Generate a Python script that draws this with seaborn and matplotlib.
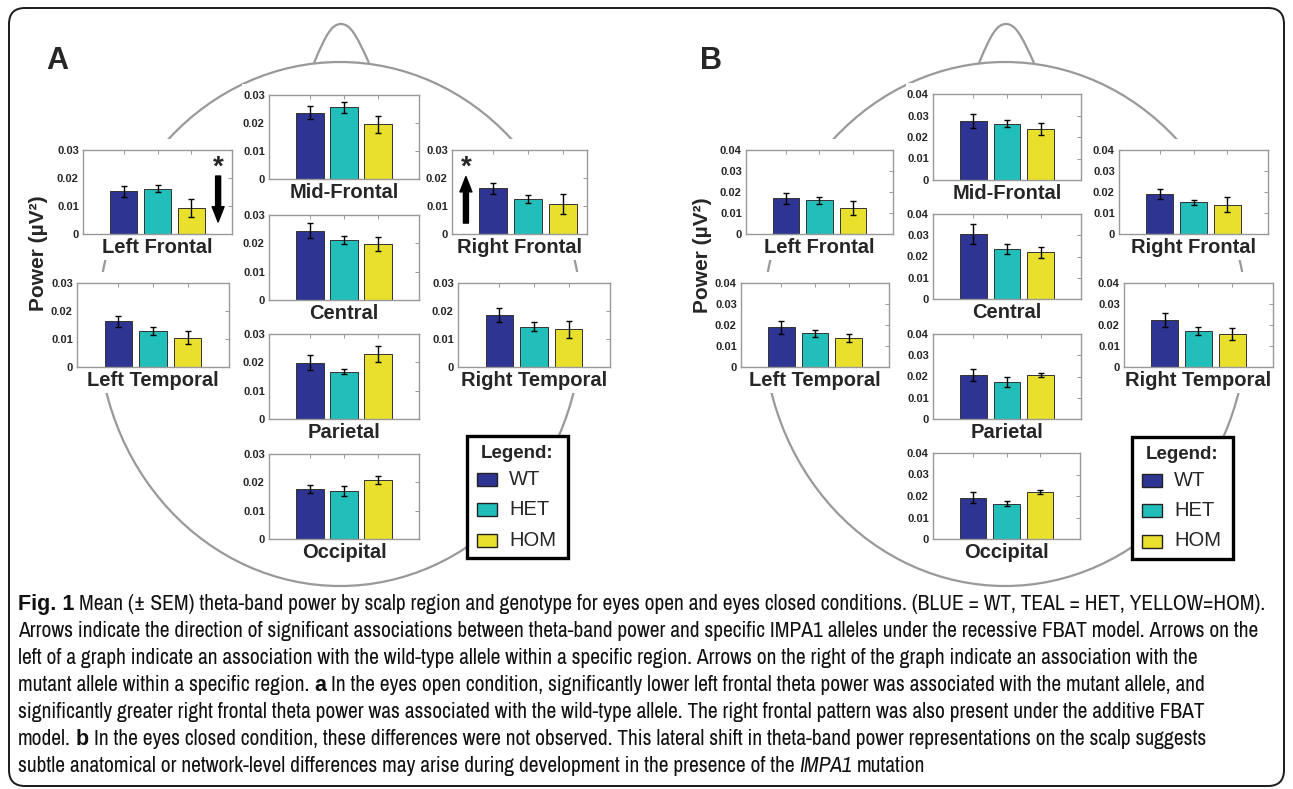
import numpy as np
import pandas as pd
import matplotlib
matplotlib.use("Agg")
import matplotlib.pyplot as plt
import seaborn as sns
from matplotlib.patches import Ellipse, Rectangle, FancyBboxPatch, PathPatch
from matplotlib.path import Path
from matplotlib import font_manager

# ---------------- data ----------------
genotypes = ["WT", "HET", "HOM"]
colors = ["#2E3492", "#22BEBA", "#E9E02E"]

# Panel A : eyes open (mean, SEM)
a_left_frontal = [0.0152, 0.0162, 0.0092]
a_left_frontal_sem = [0.0019, 0.0012, 0.0033]
a_mid_frontal = [0.0237, 0.0256, 0.0196]
a_mid_frontal_sem = [0.0022, 0.0020, 0.0030]
a_right_frontal = [0.0163, 0.0124, 0.0106]
a_right_frontal_sem = [0.0020, 0.0014, 0.0036]
a_left_temporal = [0.0163, 0.0129, 0.0105]
a_left_temporal_sem = [0.0020, 0.0014, 0.0024]
a_central = [0.0245, 0.0212, 0.0198]
a_central_sem = [0.0027, 0.0015, 0.0026]
a_right_temporal = [0.0185, 0.0144, 0.0134]
a_right_temporal_sem = [0.0024, 0.0015, 0.0030]
a_parietal = [0.0199, 0.0167, 0.0228]
a_parietal_sem = [0.0026, 0.0009, 0.0028]
a_occipital = [0.0176, 0.0170, 0.0208]
a_occipital_sem = [0.0013, 0.0017, 0.0015]

# Panel B : eyes closed (mean, SEM)
b_left_frontal = [0.0171, 0.0160, 0.0123]
b_left_frontal_sem = [0.0026, 0.0016, 0.0033]
b_mid_frontal = [0.0274, 0.0262, 0.0236]
b_mid_frontal_sem = [0.0032, 0.0016, 0.0029]
b_right_frontal = [0.0189, 0.0151, 0.0140]
b_right_frontal_sem = [0.0024, 0.0013, 0.0036]
b_left_temporal = [0.0189, 0.0161, 0.0137]
b_left_temporal_sem = [0.0030, 0.0017, 0.0020]
b_central = [0.0308, 0.0234, 0.0220]
b_central_sem = [0.0047, 0.0023, 0.0026]
b_right_temporal = [0.0224, 0.0171, 0.0156]
b_right_temporal_sem = [0.0032, 0.0018, 0.0028]
b_parietal = [0.0207, 0.0174, 0.0207]
b_parietal_sem = [0.0026, 0.0022, 0.0009]
b_occipital = [0.0193, 0.0164, 0.0219]
b_occipital_sem = [0.0025, 0.0012, 0.0010]

a_yticks = [0, 0.01, 0.02, 0.03]
a_yticklabels = ["0", "0.01", "0.02", "0.03"]
b_yticks = [0, 0.01, 0.02, 0.03, 0.04]
b_yticklabels = ["0", "0.01", "0.02", "0.03", "0.04"]

caption_lines = [
    [("Fig. 1", "bold", "normal"), ("Mean (\u00b1 SEM) theta-band power by scalp region and genotype for eyes open and eyes closed conditions. (BLUE = WT, TEAL = HET, YELLOW=HOM).", "normal", "normal")],
    [("Arrows indicate the direction of significant associations between theta-band power and specific IMPA1 alleles under the recessive FBAT model. Arrows on the", "normal", "normal")],
    [("left of a graph indicate an association with the wild-type allele within a specific region. Arrows on the right of the graph indicate an association with the", "normal", "normal")],
    [("mutant allele within a specific region.", "normal", "normal"), ("a", "bold", "normal"), ("In the eyes open condition, significantly lower left frontal theta power was associated with the mutant allele, and", "normal", "normal")],
    [("significantly greater right frontal theta power was associated with the wild-type allele. The right frontal pattern was also present under the additive FBAT", "normal", "normal")],
    [("model.", "normal", "normal"), ("b", "bold", "normal"), ("In the eyes closed condition, these differences were not observed. This lateral shift in theta-band power representations on the scalp suggests", "normal", "normal")],
    [("subtle anatomical or network-level differences may arise during development in the presence of the", "normal", "normal"), ("IMPA1", "normal", "italic"), ("mutation", "normal", "normal")],
]

# ---------------- style ----------------
sns.set_style("white")
plt.rcParams["font.family"] = ["Liberation Sans", "DejaVu Sans"]

W, H = 1293, 789
fig = plt.figure(figsize=(W / 100, H / 100), dpi=100)
fig.patch.set_facecolor("white")

bg = fig.add_axes([0, 0, 1, 1], zorder=0)
bg.set_xlim(0, W)
bg.set_ylim(H, 0)
bg.axis("off")

# outer frame
bg.add_patch(FancyBboxPatch((9, 8), 1275, 778, boxstyle="round,pad=0,rounding_size=16",
                            fc="none", ec="#1a1a1a", lw=1.4, zorder=1))

HEAD_C = "#999999"


def draw_head(cx):
    bg.add_patch(Ellipse((cx, 324), 2 * 242, 2 * 262, fill=False, ec=HEAD_C, lw=1.6, zorder=1))
    verts = [(cx - 26, 63), (cx - 14, 34), (cx - 8, 24), (cx + 1, 24),
             (cx + 10, 24), (cx + 16, 34), (cx + 29, 63)]
    codes = [Path.MOVETO, Path.CURVE4, Path.CURVE4, Path.CURVE4, Path.CURVE4, Path.CURVE4, Path.CURVE4]
    bg.add_patch(PathPatch(Path(verts, codes), fill=False, ec=HEAD_C, lw=1.6, zorder=1))


def px_axes(x0, y0, x1, y1):
    return fig.add_axes([x0 / W, 1 - y1 / H, (x1 - x0) / W, (y1 - y0) / H], zorder=5)


def panel_plot(box, name, means, sems, yticks, ylabels, xlim=(-1.2, 3.2)):
    x0, y0, x1, y1 = box
    # white backing (axes + tick labels), and behind the region name
    bg.add_patch(Rectangle((x0 - 27, y0 - 11), (x1 - x0) + 31, (y1 - y0) + 17,
                           fc="white", ec="none", zorder=2))
    bg.add_patch(Rectangle((x0 - 6, y1), (x1 - x0) + 12, 26,
                           fc="white", ec="none", zorder=2))
    ax = px_axes(*box)
    df = pd.DataFrame({"genotype": genotypes, "power": means})
    sns.barplot(data=df, x="genotype", y="power", hue="genotype", order=genotypes,
                hue_order=genotypes, palette=colors, dodge=False, legend=False,
                errorbar=None, width=0.8, saturation=1, edgecolor="#333333",
                linewidth=0.7, ax=ax)
    ax.errorbar(range(len(genotypes)), means, yerr=sems, fmt="none", ecolor="black",
                elinewidth=1.0, capsize=2.5, capthick=1.0, zorder=4)
    ax.set_xlim(*xlim)
    ax.set_ylim(yticks[0], yticks[-1])
    ax.set_yticks(yticks)
    ax.set_yticklabels(ylabels, fontsize=8, fontweight="bold")
    ax.set_xlabel("")
    ax.set_ylabel("")
    ax.tick_params(axis="both", direction="in", length=3, width=0.7, color="#999999",
                   top=True, right=True, labelbottom=False, pad=3)
    for s in ax.spines.values():
        s.set_color("#999999")
        s.set_linewidth(1.0)
    ax.set_facecolor("white")
    ax.annotate(name, xy=(0.5, 0), xycoords="axes fraction", xytext=(0, -19),
                textcoords="offset pixels", ha="center", va="baseline",
                fontsize=14.5, fontweight="bold", annotation_clip=False)
    return ax


def draw_legend(x0, y0):
    bg.add_patch(Rectangle((x0, y0), 101, 122, fc="white", ec="black", lw=2.4, zorder=3))
    bg.text(x0 + 50, y0 + 17, "Legend:", ha="center", va="center", fontsize=13.5,
            fontweight="bold", zorder=4)
    for i, (g, c) in enumerate(zip(genotypes, colors)):
        yy = y0 + 43 + i * 30.5
        bg.add_patch(Rectangle((x0 + 10, yy - 6.5), 20, 13, fc=c, ec="#222222", lw=1.0, zorder=4))
        bg.text(x0 + 42, yy, g, ha="left", va="center", fontsize=14.5, zorder=4)


# ---------------- panel A ----------------
draw_head(340)
ax = panel_plot((83, 150, 232, 234), "Left Frontal", a_left_frontal, a_left_frontal_sem, a_yticks, a_yticklabels)
ax.annotate("", xy=(2.79, 0.0043), xytext=(2.79, 0.0207),
            arrowprops=dict(width=3.6, headwidth=8.6, headlength=11, color="black", shrink=0))
ax.text(2.79, 0.0238, "*", ha="center", va="center", fontsize=20, fontweight="bold")
panel_plot((269, 95, 419, 179), "Mid-Frontal", a_mid_frontal, a_mid_frontal_sem, a_yticks, a_yticklabels)
ax = panel_plot((452, 150, 587, 234), "Right Frontal", a_right_frontal, a_right_frontal_sem,
                a_yticks, a_yticklabels, xlim=(-1.19, 2.69))
ax.annotate("", xy=(-0.79, 0.0205), xytext=(-0.79, 0.0039),
            arrowprops=dict(width=3.6, headwidth=8.6, headlength=11, color="black", shrink=0))
ax.text(-0.79, 0.0238, "*", ha="center", va="center", fontsize=20, fontweight="bold")
panel_plot((77, 283, 229, 367), "Left Temporal", a_left_temporal, a_left_temporal_sem, a_yticks, a_yticklabels)
panel_plot((269, 215, 419, 300), "Central", a_central, a_central_sem, a_yticks, a_yticklabels)
panel_plot((458, 283, 610, 367), "Right Temporal", a_right_temporal, a_right_temporal_sem, a_yticks, a_yticklabels)
panel_plot((269, 334, 419, 419), "Parietal", a_parietal, a_parietal_sem, a_yticks, a_yticklabels)
panel_plot((269, 454, 419, 539), "Occipital", a_occipital, a_occipital_sem, a_yticks, a_yticklabels)
draw_legend(467, 436)
bg.text(57, 61, "A", ha="center", va="center", fontsize=22, fontweight="bold", zorder=4)
bg.text(39, 253, "Power (\u00b5V\u00b2)", ha="center", va="center", rotation=90,
        fontsize=15, fontweight="bold", zorder=4)

# ---------------- panel B ----------------
draw_head(1005)
panel_plot((746, 150, 893, 234), "Left Frontal", b_left_frontal, b_left_frontal_sem, b_yticks, b_yticklabels)
panel_plot((741, 283, 889, 367), "Left Temporal", b_left_temporal, b_left_temporal_sem, b_yticks, b_yticklabels)
panel_plot((933, 94, 1081, 180), "Mid-Frontal", b_mid_frontal, b_mid_frontal_sem, b_yticks, b_yticklabels)
panel_plot((933, 214, 1081, 299), "Central", b_central, b_central_sem, b_yticks, b_yticklabels)
panel_plot((933, 334, 1081, 419), "Parietal", b_parietal, b_parietal_sem, b_yticks, b_yticklabels)
panel_plot((933, 453, 1080, 539), "Occipital", b_occipital, b_occipital_sem, b_yticks, b_yticklabels)
panel_plot((1119, 150, 1268, 234), "Right Frontal", b_right_frontal, b_right_frontal_sem, b_yticks, b_yticklabels)
panel_plot((1124, 283, 1273, 367), "Right Temporal", b_right_temporal, b_right_temporal_sem, b_yticks, b_yticklabels)
draw_legend(1132, 437)
bg.text(711, 61, "B", ha="center", va="center", fontsize=22, fontweight="bold", zorder=4)
bg.text(702, 255, "Power (\u00b5V\u00b2)", ha="center", va="center", rotation=90,
        fontsize=15, fontweight="bold", zorder=4)

# ---------------- caption ----------------
# prefer a condensed sans face if one is installed
cap_family, cap_stretch = "Liberation Sans", "normal"
ttf = font_manager.fontManager.ttflist
names = {f.name for f in ttf}
narrow = sorted(n for n in names if ("Narrow" in n or "Condensed" in n) and "Mono" not in n and "Serif" not in n)
if "Liberation Sans Narrow" in names:
    cap_family = "Liberation Sans Narrow"
elif narrow:
    cap_family = narrow[0]
else:
    cond = [f for f in ttf
            if f.stretch in ("condensed", "semi-condensed", 500, 600) and f.name in ("DejaVu Sans", "Open Sans", "Roboto", "Noto Sans")]
    if cond:
        cap_family, cap_stretch = cond[0].name, "condensed"


def _wnum(w):
    table = {"normal": 400, "regular": 400, "book": 400, "medium": 500, "semibold": 600,
             "demibold": 600, "bold": 700, "heavy": 800, "extra bold": 800, "black": 900}
    return w if isinstance(w, (int, float)) else table.get(str(w).lower(), 400)


has_bold = any(f.name == cap_family and _wnum(f.weight) >= 600 for f in ttf)
bold_family = cap_family if has_bold else "Liberation Sans"
renderer = fig.canvas.get_renderer()


def make_text(s, size, weight="normal", style="normal", x=0, y=0):
    fam = bold_family if weight == "bold" else cap_family
    return fig.text(x, y, s, fontsize=size, fontweight=weight, fontstyle=style,
                    fontstretch=cap_stretch, family=[fam, "DejaVu Sans"],
                    ha="left", va="baseline", color="#111111")


def text_width(s, size, weight="normal", style="normal"):
    t = make_text(s, size, weight, style)
    w = t.get_window_extent(renderer).width
    t.remove()
    return w


def line_width(runs, size):
    sp = text_width("x x", size) - text_width("xx", size)
    return sum(text_width(r[0], size, r[1], r[2]) for r in runs) + sp * (len(runs) - 1)


ref_size = 10
cap_size = ref_size * 1252 / line_width(caption_lines[0], ref_size)
space_w = text_width("x x", cap_size) - text_width("xx", cap_size)
baselines = [610, 637, 664, 691, 718, 745, 772]
for runs, yb in zip(caption_lines, baselines):
    x = 18
    for txt, weight, style in runs:
        t = make_text(txt, cap_size, weight, style, x / W, 1 - yb / H)
        x += t.get_window_extent(renderer).width + space_w

fig.savefig("out.png", dpi=100, facecolor="white")
